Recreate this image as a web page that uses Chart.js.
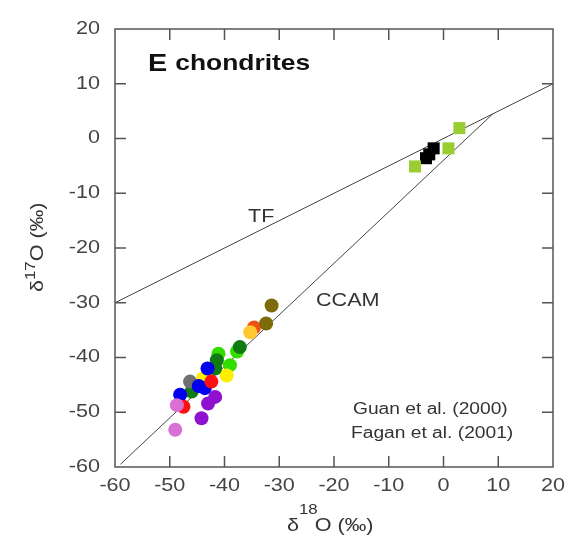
<!DOCTYPE html>
<html>
<head>
<meta charset="utf-8">
<script src="https://cdn.jsdelivr.net/npm/chart.js@4.4.0/dist/chart.umd.min.js"></script>
<style>
  html, body { margin: 0; padding: 0; background: #fff; }
  #wrap { width: 575px; height: 546px; }
</style>
</head>
<body>
<div id="wrap"><canvas id="myChart"></canvas></div>
<script>
// axis ranges and tick values
const xTicks = [-60, -50, -40, -30, -20, -10, 0, 10, 20];
const yTicks = [-60, -50, -40, -30, -20, -10, 0, 10, 20];

// reference lines
const tfLine = [{ x: -60, y: -30 }, { x: 20, y: 10 }];
const ccamLine = [{ x: -59, y: -59.5 }, { x: 9, y: 4.5 }];

// E chondrite components (delta18O, delta17O), one list per symbol colour
const olive = [[-31.4, -30.5], [-32.4, -33.8]];
const orangeRed = [[-34.6, -34.5]];
const gold = [[-35.3, -35.4]];
const darkGreen = [[-37.2, -38.1], [-41.4, -40.5], [-41.7, -42.0], [-46.0, -46.2]];
const brightGreen = [[-37.7, -38.9], [-41.1, -39.3], [-39.0, -41.4]];
const blue = [[-43.1, -42.0], [-43.6, -45.6], [-44.7, -45.2], [-48.1, -46.8]];
const yellow = [[-39.6, -43.3], [-43.9, -43.8]];
const red = [[-42.4, -44.4], [-47.5, -49.0]];
const grey = [[-46.3, -44.4]];
const purple = [[-41.7, -47.2], [-43.0, -48.4], [-44.2, -51.1]];
const orchid = [[-48.7, -48.7], [-49.0, -53.2]];
const limeSquares = [[2.9, 1.9], [0.9, -1.8], [-5.2, -5.1]];
const blackSquares = [[-1.8, -1.8], [-2.6, -2.9], [-3.2, -3.6]];

const FONT = '"Liberation Sans", Arial, sans-serif';
const STRETCH = 1.2;   // the lettering is drawn a bit wide

const pts = arr => arr.map(p => ({ x: p[0], y: p[1] }));

function dots(data, color, order) {
    return {
        type: 'scatter',
        data: pts(data),
        pointStyle: 'circle',
        pointRadius: 7,
        backgroundColor: color,
        borderColor: color,
        borderWidth: 0,
        order: order
    };
}

function squares(data, color, order) {
    return {
        type: 'scatter',
        data: pts(data),
        pointStyle: 'rect',
        pointRadius: 8.5,
        backgroundColor: color,
        borderColor: color,
        borderWidth: 0,
        order: order
    };
}

function refLine(data) {
    return {
        type: 'line',
        data: data,
        borderColor: '#444',
        borderWidth: 1,
        pointRadius: 0,
        fill: false,
        order: 20
    };
}

// stretched text, returns the drawn width
function wideText(ctx, str, x, y, font, align) {
    ctx.save();
    ctx.font = font;
    ctx.translate(x, y);
    ctx.scale(STRETCH, 1);
    ctx.textAlign = align || 'left';
    ctx.fillText(str, 0, 0);
    const w = ctx.measureText(str).width * STRETCH;
    ctx.restore();
    return w;
}

// frame, inward ticks, tick labels and all the free text
const decorations = {
    id: 'decorations',
    afterDraw(chart) {
        const { ctx, chartArea: a, scales } = chart;
        const xs = scales.x, ys = scales.y;
        ctx.save();
        ctx.strokeStyle = '#555';
        ctx.lineWidth = 1.5;
        ctx.strokeRect(a.left, a.top, a.right - a.left, a.bottom - a.top);

        const tl = 11;
        ctx.beginPath();
        xTicks.slice(1, -1).forEach(v => {
            const px = xs.getPixelForValue(v);
            ctx.moveTo(px, a.bottom); ctx.lineTo(px, a.bottom - tl);
            ctx.moveTo(px, a.top); ctx.lineTo(px, a.top + tl);
        });
        yTicks.slice(1, -1).forEach(v => {
            const py = ys.getPixelForValue(v);
            ctx.moveTo(a.left, py); ctx.lineTo(a.left + tl, py);
            ctx.moveTo(a.right, py); ctx.lineTo(a.right - tl, py);
        });
        ctx.stroke();

        // tick labels
        ctx.fillStyle = '#444';
        ctx.textBaseline = 'middle';
        const tickFont = '18px ' + FONT;
        xTicks.forEach(v => wideText(ctx, String(v), xs.getPixelForValue(v), a.bottom + 19, tickFont, 'center'));
        yTicks.forEach(v => wideText(ctx, String(v), a.left - 15, ys.getPixelForValue(v), tickFont, 'right'));

        // panel title
        ctx.fillStyle = '#111';
        let x = 148;
        x += wideText(ctx, 'E ', x, 64, 'bold 24px ' + FONT);
        wideText(ctx, 'chondrites', x, 64, 'bold 22px ' + FONT);

        ctx.fillStyle = '#333';
        wideText(ctx, 'TF', 248, 217, '18px ' + FONT);
        wideText(ctx, 'CCAM', 316, 301, '18px ' + FONT);
        wideText(ctx, 'Guan et al. (2000)', 353, 410, '16px ' + FONT);
        wideText(ctx, 'Fagan et al. (2001)', 351, 434, '16px ' + FONT);

        // x axis title: delta 18 O (permil)
        ctx.textBaseline = 'alphabetic';
        x = 287;
        const by = 531;
        x += wideText(ctx, 'δ', x, by, '18px ' + FONT);
        x += wideText(ctx, '18', x, by - 17, '14px ' + FONT) - 3;
        wideText(ctx, 'O (‰)', x, by, '18px ' + FONT);

        // y axis title, rotated
        ctx.translate(43, 292);
        ctx.rotate(-Math.PI / 2);
        x = 0;
        x += wideText(ctx, 'δ', x, 0, '18px ' + FONT);
        x += wideText(ctx, '17', x, -8, '14px ' + FONT);
        wideText(ctx, 'O (‰)', x, 0, '18px ' + FONT);
        ctx.restore();
    }
};

const config = {
    type: 'scatter',
    data: {
        datasets: [
            squares(limeSquares, '#9acd32', 1),
            squares(blackSquares, '#000000', 2),
            dots(orchid, '#da70d6', 3),
            dots(red, '#ff1010', 4),
            dots(blue, '#0000ee', 5),
            dots(grey, '#707070', 6),
            dots(darkGreen, '#127a12', 7),
            dots(yellow, '#ffee00', 8),
            dots(brightGreen, '#33dd00', 9),
            dots(purple, '#9010d0', 10),
            dots(olive, '#7d6a08', 11),
            dots(gold, '#ffc830', 12),
            dots(orangeRed, '#f05010', 13),
            refLine(tfLine),
            refLine(ccamLine)
        ]
    },
    options: {
        responsive: false,
        animation: false,
        layout: { padding: { top: 29, right: 22, left: 0, bottom: 0 } },
        plugins: {
            legend: { display: false },
            tooltip: { enabled: false }
        },
        scales: {
            x: {
                type: 'linear',
                min: -60, max: 20,
                afterFit: s => { s.height = 79; },
                grid: { display: false, drawTicks: false },
                border: { display: false },
                ticks: { display: false }
            },
            y: {
                type: 'linear',
                min: -60, max: 20,
                afterFit: s => { s.width = 115; },
                grid: { display: false, drawTicks: false },
                border: { display: false },
                ticks: { display: false }
            }
        }
    },
    plugins: [decorations]
};

const canvas = document.getElementById('myChart');
canvas.width = 575;
canvas.height = 546;
const myChart = new Chart(canvas, config);
</script>
</body>
</html>
